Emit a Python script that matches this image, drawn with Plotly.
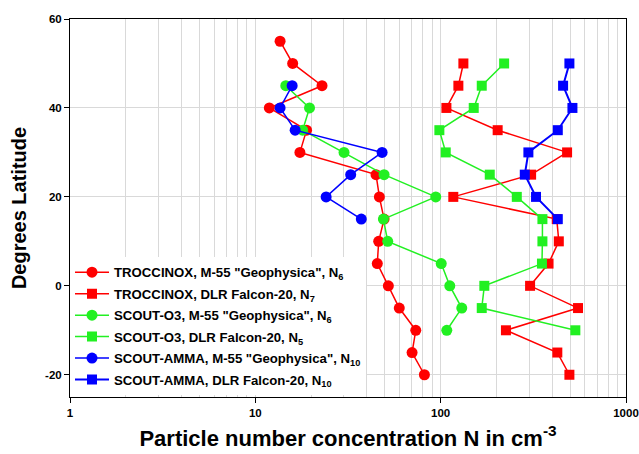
import plotly.graph_objects as go

# Latitudes (degrees)
lat_troc_m55 = [55, 50, 45, 40, 35, 30, 25, 20, 15, 10, 5, 0, -5, -10, -15, -20]
n_troc_m55 = [13.6, 15.9, 22.9, 11.9, 18.9, 17.4, 44.8, 46.7, 49.5, 46.3, 45.5, 52.2, 59.8, 73.4, 70.1, 81.7]

lat_troc_falcon = [50, 45, 40, 35, 30, 25, 20, 15, 10, 5, 0, -5, -10, -15, -20]
n_troc_falcon = [132.6, 124.6, 107.4, 203, 481, 307.6, 117, 423, 434, 382, 303.7, 551, 225, 426, 495]

lat_scout_m55 = [45, 40, 35, 30, 25, 20, 15, 10, 5, 0, -5, -10]
n_scout_m55 = [14.6, 19.6, 18.0, 30.1, 49.5, 94.1, 49.1, 51.8, 100.7, 112, 130, 107.9]

lat_scout_falcon = [50, 45, 40, 35, 30, 25, 20, 15, 10, 5, 0, -5, -10]
n_scout_falcon = [220, 166.6, 150.8, 98.4, 106.5, 184, 257.5, 354, 354, 352, 172, 166.6, 533]

lat_amma_m55 = [45, 40, 35, 30, 25, 20, 15]
n_amma_m55 = [15.8, 13.6, 16.4, 48.3, 32.7, 24.1, 37.3]

lat_amma_falcon = [50, 45, 40, 35, 30, 25, 20, 15]
n_amma_falcon = [495, 457.7, 514, 428.5, 297.4, 284.4, 327, 428.5]

series_names = [
    'TROCCINOX, M-55 "Geophysica", N<sub>6</sub>',
    'TROCCINOX, DLR Falcon-20, N<sub>7</sub>',
    'SCOUT-O3, M-55 "Geophysica", N<sub>6</sub>',
    'SCOUT-O3, DLR Falcon-20, N<sub>5</sub>',
    'SCOUT-AMMA, M-55 "Geophysica", N<sub>10</sub>',
    'SCOUT-AMMA, DLR Falcon-20, N<sub>10</sub>',
]

x_tick_vals = [1, 10, 100, 1000]
x_tick_text = ["1", "10", "100", "1000"]
y_tick_vals = [-20, 0, 20, 40, 60]
y_tick_text = ["-20", "0", "20", "40", "60"]
x_minor_vals = [m * d for d in (1, 10, 100) for m in range(2, 10)]

RED = "#FF0000"
GREEN = "#22F022"
BLUE = "#0000FF"

data = [
    (n_troc_m55, lat_troc_m55, RED, "circle", 11, 1.5),
    (n_troc_falcon, lat_troc_falcon, RED, "square", 10, 1.5),
    (n_scout_m55, lat_scout_m55, GREEN, "circle", 11, 1.5),
    (n_scout_falcon, lat_scout_falcon, GREEN, "square", 10, 1.5),
    (n_amma_m55, lat_amma_m55, BLUE, "circle", 11, 1.5),
    (n_amma_falcon, lat_amma_falcon, BLUE, "square", 10, 2),
]

fig = go.Figure()
for i, ((xs, ys, col, sym, sz, lw), name) in enumerate(zip(data, series_names)):
    fig.add_trace(go.Scatter(
        x=xs, y=ys, mode="lines+markers", name=name,
        legendgroup=f"g{i}",
        line=dict(color=col, width=lw),
        marker=dict(color=col, symbol=sym, size=sz, line=dict(width=0)),
    ))

font_family = "Arial, Liberation Sans, sans-serif"

fig.update_layout(
    width=639, height=454,
    margin=dict(l=70, r=13, t=19, b=57),
    paper_bgcolor="white", plot_bgcolor="white",
    font=dict(family=font_family, color="black"),
    showlegend=True,
    legend=dict(
        x=0.0, y=0.37, xanchor="left", yanchor="top",
        bgcolor="white", borderwidth=0,
        font=dict(size=13.2, family=font_family, color="black", weight="bold"),
        itemwidth=34, tracegroupgap=1.3,
    ),
    xaxis=dict(
        type="log", range=[0, 3], automargin=False,
        tickvals=x_tick_vals, ticktext=[f"<b>{t}</b>" for t in x_tick_text],
        tickfont=dict(size=11.5),
        ticks="outside", ticklen=5, tickcolor="black",
        showline=True, linecolor="black", linewidth=1, mirror=True,
        showgrid=True, gridcolor="#d9d9d9", gridwidth=1,
        minor=dict(tickvals=x_minor_vals, showgrid=True, gridcolor="#d9d9d9", gridwidth=1, ticks=""),
        zeroline=False,
        title=dict(text="<b>Particle number concentration N in cm<sup>-3</sup></b>",
                   font=dict(size=22), standoff=12),
    ),
    yaxis=dict(
        range=[-25, 60], automargin=False,
        tickvals=y_tick_vals, ticktext=[f"<b>{t}</b>" for t in y_tick_text],
        tickfont=dict(size=11.5),
        ticks="outside", ticklen=5, tickcolor="black",
        showline=True, linecolor="black", linewidth=1, mirror=True,
        showgrid=True, gridcolor="#d9d9d9", gridwidth=1,
        zeroline=False,
        title=dict(text="<b>Degrees Latitude</b>", font=dict(size=20), standoff=13),
    ),
)

fig.write_html(
    "out.html",
    config={"displayModeBar": False},
    post_script="document.body.style.margin='0px';document.body.style.overflow='hidden';",
)
